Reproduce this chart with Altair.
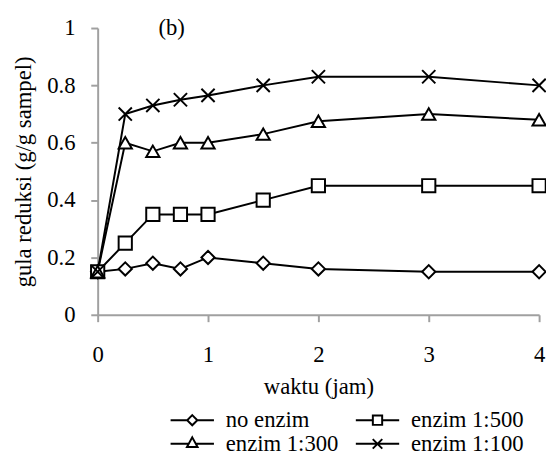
import altair as alt
import pandas as pd

times = [0, 0.25, 0.5, 0.75, 1, 1.5, 2, 3, 4]
series_names = ["no enzim", "enzim 1:500", "enzim 1:300", "enzim 1:100"]
no_enzim = [0.15, 0.16, 0.18, 0.16, 0.20, 0.18, 0.16, 0.15, 0.15]
enzim_500 = [0.15, 0.25, 0.35, 0.35, 0.35, 0.40, 0.45, 0.45, 0.45]
enzim_300 = [0.15, 0.60, 0.57, 0.60, 0.60, 0.63, 0.675, 0.70, 0.68]
enzim_100 = [0.15, 0.70, 0.73, 0.75, 0.765, 0.80, 0.83, 0.83, 0.80]
x_ticks = [0, 1, 2, 3, 4]
y_ticks = [0, 0.2, 0.4, 0.6, 0.8, 1]

rows = []
for name, vals in zip(series_names, [no_enzim, enzim_500, enzim_300, enzim_100]):
    for t, v in zip(times, vals):
        rows.append({"t": t, "v": v, "series": name})
df = pd.DataFrame(rows)

FONT = "Liberation Serif"
GRAY = "#a0a0a0"
FS = 23

x_enc = alt.X("t:Q", scale=alt.Scale(domain=[0, 4], nice=False, zero=False),
              axis=alt.Axis(values=x_ticks, title="waktu (jam)", grid=False,
                            domainColor=GRAY, domainWidth=2, tickColor=GRAY, tickWidth=2,
                            tickSize=7, labelPadding=22, titlePadding=10, labelFlush=False,
                            format="d"))
y_enc = alt.Y("v:Q", scale=alt.Scale(domain=[0, 1], nice=False),
              axis=alt.Axis(values=y_ticks, title="gula reduksi (g/g sampel)", grid=False,
                            domainColor=GRAY, domainWidth=2, tickColor=GRAY, tickWidth=2,
                            tickSize=7, labelPadding=16, titlePadding=11, labelFlush=False,
                            format="~g"))

base = alt.Chart(df).encode(x=x_enc, y=y_enc)

lines = base.mark_line(color="black", strokeWidth=2).encode(detail="series:N")

marker_shapes = ["diamond", "square", "triangle-up", "M-1,-1L1,1M-1,1L1,-1"]
points = base.mark_point(filled=True, fill="white", stroke="black", strokeWidth=2,
                         size=180, opacity=1).encode(
    shape=alt.Shape("series:N", scale=alt.Scale(domain=series_names, range=marker_shapes),
                    legend=None)
)

# legend glyphs: a line with the series marker in its middle
legend_paths = [
    "M-1,0L0.53,0M1.47,0L3,0M1,-0.47L1.47,0L1,0.47L0.53,0Z",
    "M-1,0L0.57,0M1.43,0L3,0M0.57,-0.43L1.43,-0.43L1.43,0.43L0.57,0.43Z",
    "M-1,0L0.67,0M1.33,0L3,0M1,-0.6L1.49,0.3L0.51,0.3Z",
    "M-1,0L3,0M0.56,-0.44L1.44,0.44M0.56,0.44L1.44,-0.44",
]
legend_layer = base.mark_point(filled=False, fill="white", stroke="black", strokeWidth=2,
                               opacity=1).encode(
    shape=alt.Shape("series:N",
                    scale=alt.Scale(domain=series_names, range=legend_paths),
                    legend=alt.Legend(title=None, orient="none", legendX=73, legendY=386,
                                      direction="horizontal", columns=2, columnPadding=13,
                                      rowPadding=0, padding=0,
                                      symbolSize=484, symbolStrokeWidth=2,
                                      labelFont=FONT, labelFontSize=FS, labelColor="black",
                                      labelOffset=33, labelLimit=300))
).transform_filter("datum.t < -100")

label_b = alt.Chart(pd.DataFrame({"t": [0.67], "v": [1.0], "txt": ["(b)"]})).mark_text(
    font=FONT, fontSize=FS, color="black", baseline="middle"
).encode(x="t:Q", y="v:Q", text="txt:N")

chart = alt.layer(lines, points, legend_layer, label_b).resolve_scale(
    shape="independent"
).properties(
    width=448, height=291,
    autosize=alt.AutoSizeParams(type="none"),
    padding={"left": 91, "top": 17, "right": 7, "bottom": 141},
    background="white",
).configure_view(stroke=None).configure_axis(
    labelFont=FONT, titleFont=FONT, labelFontSize=FS, titleFontSize=FS,
    labelColor="black", titleColor="black", titleFontWeight="normal"
)

chart.save("out.html", embed_options={"renderer": "svg", "actions": False})
